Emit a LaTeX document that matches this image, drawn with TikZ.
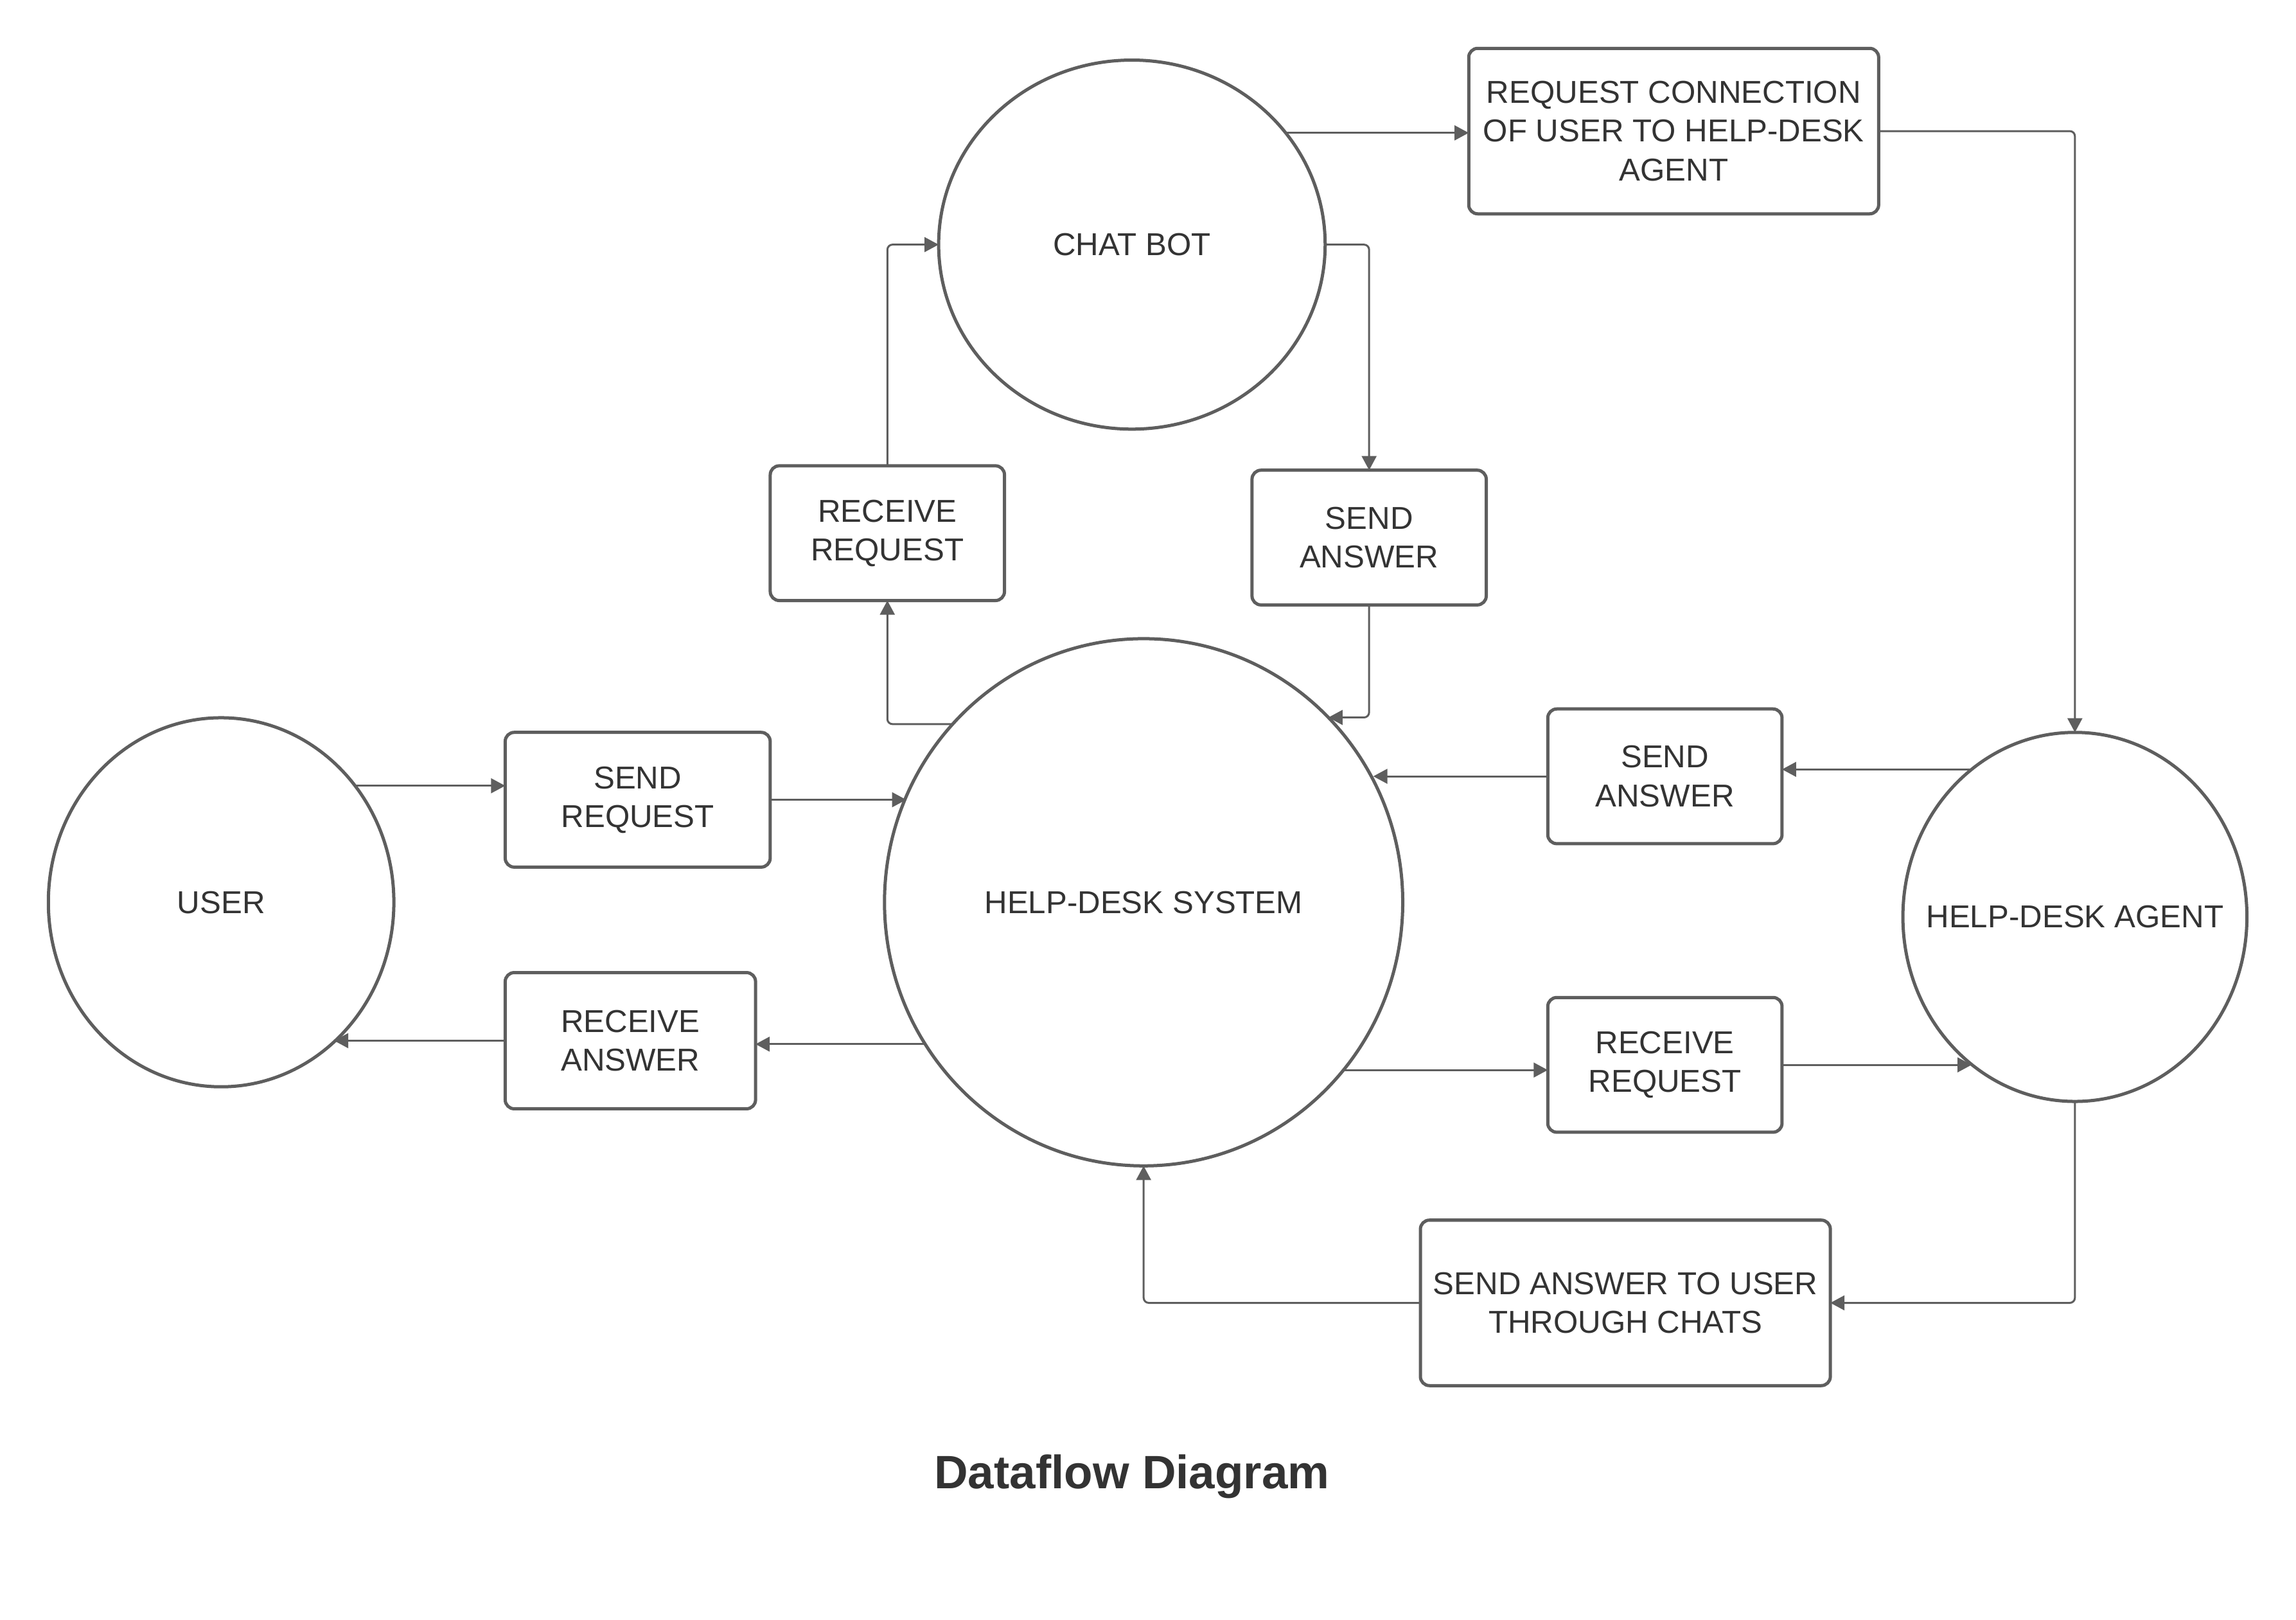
\documentclass[tikz,border=0pt]{standalone}
\usepackage{fontspec}
\setmainfont{Liberation Sans}
\usetikzlibrary{shapes.geometric}
\usetikzlibrary{arrows.meta}
\usetikzlibrary{calc}
\definecolor{linegray}{HTML}{5E5E5E}
\definecolor{textgray}{HTML}{333333}

\begin{document}
\begin{tikzpicture}[x=0.02cm,y=-0.02cm,
  proc/.style={draw=linegray,line width=1.25pt,ellipse,inner sep=0pt,outer sep=0pt,text=textgray,font=\fontsize{12.3}{15}\selectfont},
  task/.style={draw=linegray,line width=1.25pt,rounded corners=3.5pt,inner sep=0pt,outer sep=0pt,align=center,text=textgray,font=\fontsize{12.3}{15}\selectfont},
  flow/.style={draw=linegray,line width=0.75pt,rounded corners=2pt,-{Triangle[length=5.5pt,width=5.7pt]}}]
\useasboundingbox (0,0) rectangle (1568,1106);
\node[proc,minimum width=4.72cm,minimum height=5.04cm] (user) at (151,616) {USER};
\node[proc,minimum width=7.08cm,minimum height=7.2cm] (hds) at (781,616) {HELP-DESK SYSTEM};
\node[proc,minimum width=5.28cm,minimum height=5.04cm] (bot) at (773,167) {CHAT BOT};
\node[proc,inner xsep=-14pt,minimum width=4.7cm,minimum height=5.04cm] (agent) at (1417,626) {HELP-DESK AGENT};
\node[task,minimum width=3.62cm,minimum height=1.84cm] (sreq) at (435.5,546) {SEND\\REQUEST};
\node[task,minimum width=3.42cm,minimum height=1.86cm] (rans) at (430.5,710.5) {RECEIVE\\ANSWER};
\node[task,minimum width=3.2cm,minimum height=1.84cm] (rreqa) at (606,364) {RECEIVE\\REQUEST};
\node[task,minimum width=3.2cm,minimum height=1.84cm] (sansa) at (935,367) {SEND\\ANSWER};
\node[task,minimum width=3.2cm,minimum height=1.84cm] (sansb) at (1137,530) {SEND\\ANSWER};
\node[task,minimum width=3.2cm,minimum height=1.84cm] (rreqb) at (1137,727) {RECEIVE\\REQUEST};
\node[task,minimum width=5.6cm,minimum height=2.26cm] (reqc) at (1143,89.5) {REQUEST CONNECTION\\OF USER TO HELP-DESK\\AGENT};
\node[task,minimum width=5.6cm,minimum height=2.26cm] (sau) at (1110,889.5) {SEND ANSWER TO USER\\THROUGH CHATS};
\node[text=textgray,font=\fontsize{18.2}{22}\selectfont\bfseries] (title) at (773,1008) {Dataflow Diagram};
% user side
\draw[flow] (user.41.3) -- (user.41.3 -| sreq.west);
\draw[flow] (sreq.east) -- (sreq.east -| hds.156.8);
\draw[flow] (hds.213.1) -- (hds.213.1 -| rans.east);
\draw[flow] (rans.west) -- (rans.west -| user.309.2);
% chat bot loop
\draw[flow] (hds.137.3) -| (rreqa.south);
\draw[flow] (rreqa.north) |- (bot.west);
\draw[flow] (bot.east) -| (sansa.north);
\draw[flow] (sansa.south) |- (hds.45);
\draw[flow] (bot.36.4) -- (bot.36.4 -| reqc.west);
\draw[flow] (reqc.east) -| (agent.north);
% agent side
\draw[flow] (agent.125.7) -- (agent.125.7 -| sansb.east);
\draw[flow] (sansb.west) -- (sansb.west -| hds.28.9);
\draw[flow] (hds.320.2) -- (hds.320.2 -| rreqb.west);
\draw[flow] (rreqb.east) -- (rreqb.east -| agent.235);
\draw[flow] (agent.south) |- (sau.east);
\draw[flow] (sau.west) -| (hds.south);
\end{tikzpicture}
\end{document}
